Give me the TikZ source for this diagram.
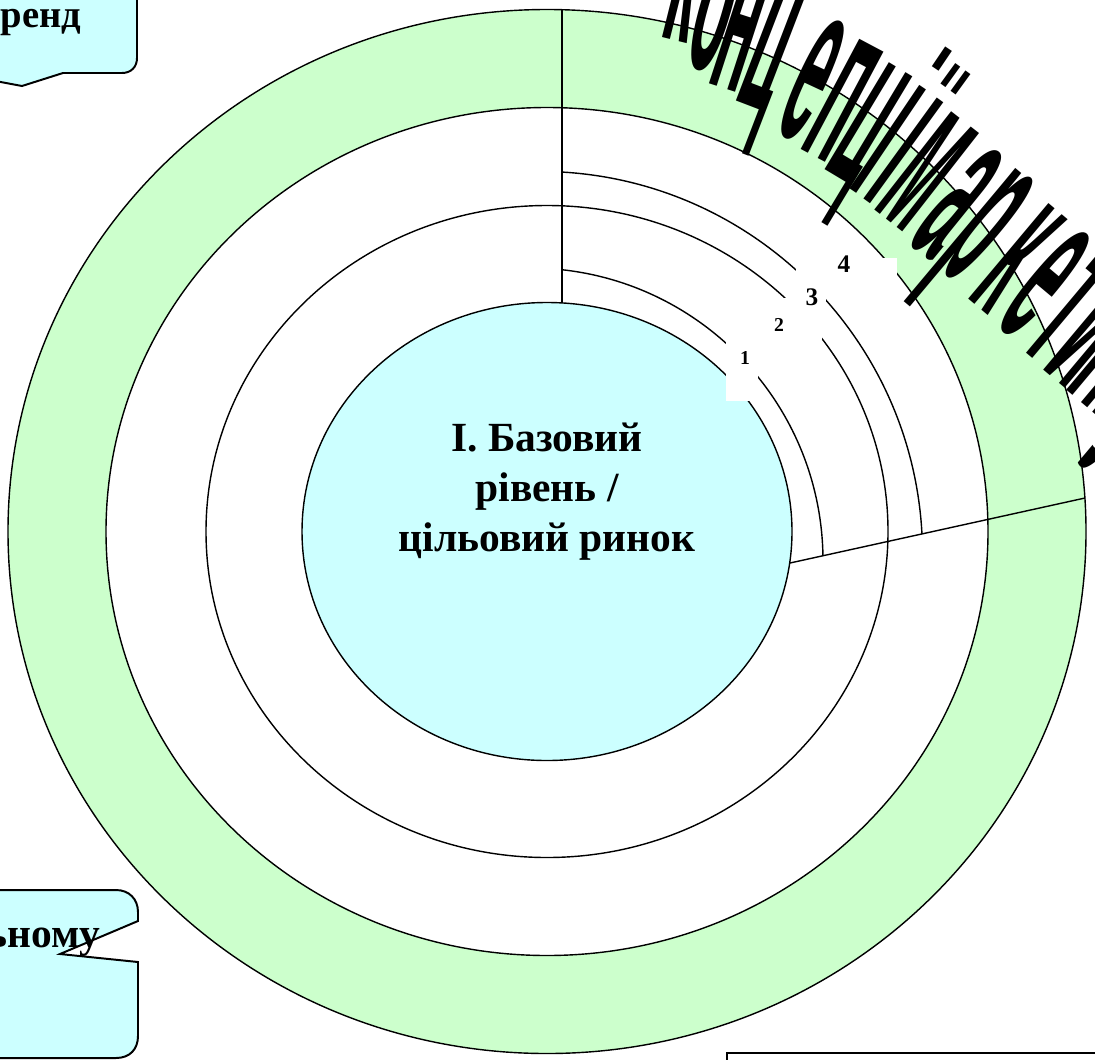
\documentclass[tikz,border=0pt]{standalone}
\usepackage{fontspec}
\setmainfont{Liberation Serif}
\newfontfamily\artfont{Liberation Sans}
\usepackage{tikz}
\definecolor{ringgreen}{HTML}{CCFFCC}
\definecolor{corecyan}{HTML}{CCFFFF}

\begin{document}
\begin{tikzpicture}[x=0.025cm, y=-0.025cm, line width=1pt,
  num/.style={font=\bfseries\fontsize{14}{14}\selectfont, inner sep=0},
  bignum/.style={font=\bfseries\fontsize{18}{18}\selectfont, inner sep=0},
  word/.style={font=\bfseries\fontsize{29.5}{29.5}\selectfont, anchor=base, inner sep=0},
  callout/.style={draw, fill=corecyan, line width=1.4pt},
  letter/.style={font=\artfont\bfseries\fontsize{40}{40}\selectfont, anchor=base, inner sep=0}]
  \useasboundingbox (0,0) rectangle (1095,1059);
  \clip (0,0) rectangle (1095,1059);
  \coordinate (c) at (547,531.5);
  \filldraw[fill=ringgreen] (c) ellipse [x radius=539, y radius=522];
  \filldraw[fill=white] (c) ellipse [x radius=441, y radius=424];
  \draw (c) ellipse [x radius=341, y radius=326];
  \begin{scope}
    \clip (562,-20) -- (1200,-20) -- (1200,472.7) -- (562,613.2) -- cycle;
    \draw (539.5,554.4) circle [radius=383];
    \draw (530,561) circle [radius=293];
  \end{scope}
  \filldraw[fill=corecyan] (c) ellipse [x radius=245, y radius=229];
  \coordinate (outtop) at (562,9.7);
  \coordinate (coretop) at (562,302.9);
  \coordinate (coreside) at (790,563);
  \coordinate (outside) at (1085,498);
  \draw (outtop) -- (coretop);
  \draw (coreside) -- (outside);
  \fill[white] (726,336) rectangle (758,401);
  \fill[white] (768,298) rectangle (822,345);
  \fill[white] (796,264) rectangle (826,305);
  \fill[white] (822,258) rectangle (897,275);
  \node[num] (one) at (745,358) {1};
  \node[num] (two) at (779,325) {2};
  \node[bignum] (three) at (812,297) {3};
  \node[bignum] (four) at (844,264) {4};
  \node[word] (lineA) at (547,451) {І. Базовий};
  \node[word] (lineB) at (547,501) {рівень /};
  \node[word] (lineC) at (547,551) {цільовий ринок};
  \foreach \ch/\px/\py/\tilt [count=\i] in {к/673/40/14, о/699/68/16, н/722/88/18, ц/749/106/21, е/786/136/25,
      п/813/156/28, ц/837/177/31, і/853/191/34, ї/867/201/36, м/889/221/38, а/919/251/39, р/946/273/40,
      к/977/306/40, е/1005/331/40, т/1030/356/40, и/1054/379/40, н/1077/399/40, г/1099/417/40, у/1119/435/40}
    \node[letter, rotate=-\tilt, xscale=1.05, yscale=4.2] (art\i) at (\px,\py) {\ch};
  \filldraw[callout] (-10,-10) -- (137,-10) -- (137,58) .. controls (137,67) and (131,73) .. (122,73)
    -- (63,73) -- (22,86) -- (-10,80);
  \node[font=\bfseries\fontsize{27.5}{27.5}\selectfont, inner sep=0, anchor=base west] (brand) at (0,27) {ренд};
  \filldraw[callout] (-10,890) -- (116,890) .. controls (129,890) and (138,899) .. (138,912) -- (138,921)
    -- (60,954) -- (138,962) -- (138,1036) .. controls (138,1049) and (130,1058) .. (116,1058) -- (-10,1058);
  \node[font=\bfseries\fontsize{29.5}{29.5}\selectfont, inner sep=0, anchor=base east] (market) at (101,947) {ьному};
  \draw[line width=1.6pt] (727,1053) rectangle (1120,1120);
\end{tikzpicture}
\end{document}
